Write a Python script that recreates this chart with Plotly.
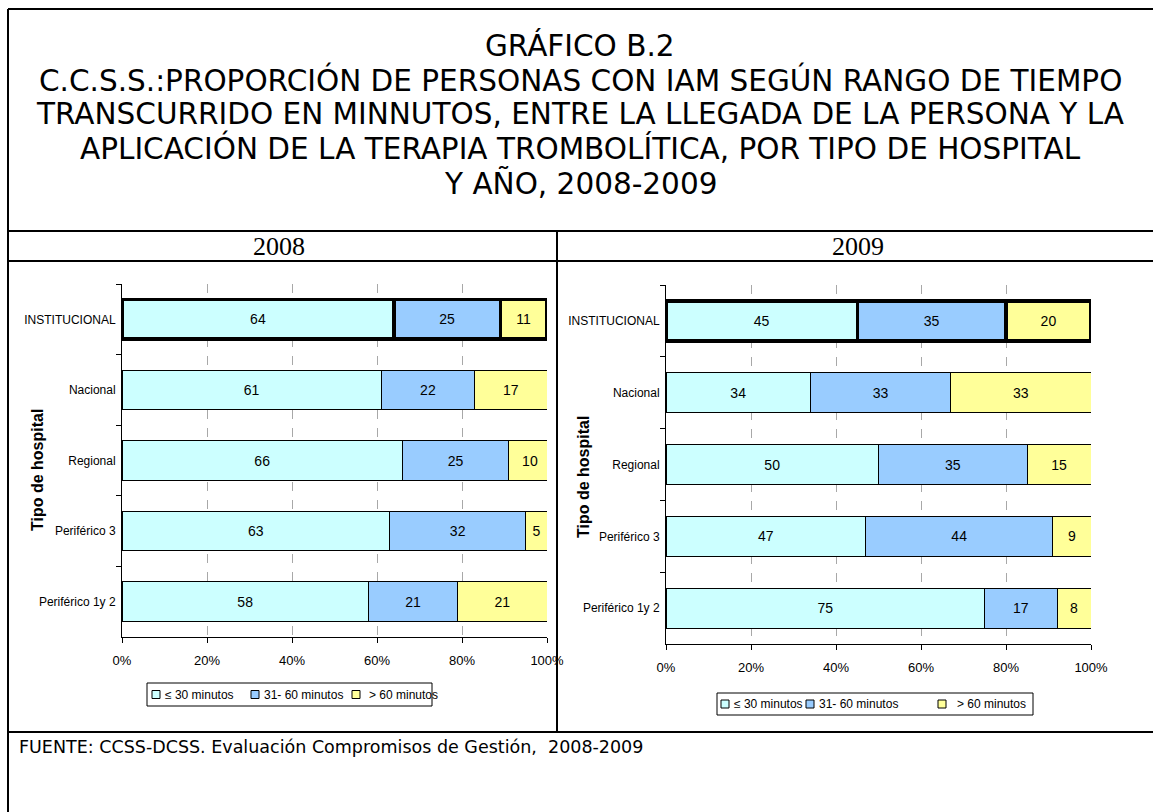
import plotly.graph_objects as go

W, H = 1153, 812

categories = ["INSTITUCIONAL", "Nacional", "Regional", "Periférico 3", "Periférico 1y 2"]
series_names = ["≤ 30 minutos", "31- 60 minutos", "> 60 minutos"]
colors = ["#CCFFFF", "#99CCFF", "#FFFF99"]

vals_2008_le30 = [64, 61, 66, 63, 58]
vals_2008_31_60 = [25, 22, 25, 32, 21]
vals_2008_gt60 = [11, 17, 10, 5, 21]

vals_2009_le30 = [45, 34, 50, 47, 75]
vals_2009_31_60 = [35, 33, 35, 44, 17]
vals_2009_gt60 = [20, 33, 15, 9, 8]

x_ticks = [0, 20, 40, 60, 80, 100]
x_tick_labels = ["0%", "20%", "40%", "60%", "80%", "100%"]

title_lines = [
    "GRÁFICO B.2",
    "C.C.S.S.:PROPORCIÓN DE PERSONAS CON IAM SEGÚN RANGO DE TIEMPO",
    "TRANSCURRIDO EN MINNUTOS, ENTRE LA LLEGADA DE LA PERSONA Y LA",
    "APLICACIÓN DE LA TERAPIA TROMBOLÍTICA, POR TIPO DE HOSPITAL",
    "Y AÑO, 2008-2009",
]
source_text = "FUENTE: CCSS-DCSS. Evaluación Compromisos de Gestión,  2008-2009"


def px(x):
    return x / W


def py(y):
    return 1 - y / H


fig = go.Figure()

line_widths = [3.5, 1, 1, 1, 1]
panels = [
    ("x", "y", [vals_2008_le30, vals_2008_31_60, vals_2008_gt60]),
    ("x2", "y2", [vals_2009_le30, vals_2009_31_60, vals_2009_gt60]),
]
for xa, ya, series in panels:
    for name, col, vals in zip(series_names, colors, series):
        fig.add_trace(go.Bar(
            y=categories, x=vals, name=name, orientation="h",
            xaxis=xa, yaxis=ya, showlegend=False,
            marker=dict(color=col, line=dict(color="black", width=line_widths)),
            text=[str(v) for v in vals], textposition="inside",
            insidetextanchor="middle", textangle=0,
            textfont=dict(family="Liberation Sans", size=14, color="black"),
            width=0.56, hoverinfo="skip",
        ))

xaxis_common = dict(
    range=[0, 100], tickvals=x_ticks, ticktext=x_tick_labels,
    showgrid=True, gridcolor="#A8A8A8", griddash="dash", gridwidth=1,
    showline=True, linecolor="black", linewidth=1,
    ticks="outside", ticklen=5, tickcolor="black",
    tickfont=dict(family="Liberation Sans", size=13, color="black"),
    zeroline=False, fixedrange=True, automargin=False, ticklabelstandoff=6,
)
yaxis_common = dict(
    categoryorder="array", categoryarray=categories, autorange="reversed",
    showline=True, linecolor="black", linewidth=1,
    ticks="outside", ticklen=5, tickcolor="black", tickson="boundaries",
    tickfont=dict(family="Liberation Sans", size=12, color="black"),
    showgrid=False, fixedrange=True, ticklabelstandoff=3, automargin=False,
)

fig.update_layout(
    width=W, height=H, autosize=False,
    margin=dict(l=0, r=0, t=0, b=0, pad=0),
    paper_bgcolor="white", plot_bgcolor="white",
    barmode="stack",
    showlegend=False,
    xaxis=dict(domain=[px(122), px(547)], anchor="y", **xaxis_common),
    yaxis=dict(domain=[py(637), py(284)], anchor="x", **yaxis_common),
    xaxis2=dict(domain=[px(666), px(1091)], anchor="y2", **xaxis_common),
    yaxis2=dict(domain=[py(644), py(285)], anchor="x2", **yaxis_common),
)

# Title lines
title_y = [46, 80, 114, 148, 183]
for t, yy in zip(title_lines, title_y):
    fig.add_annotation(
        text=t, x=px(580), y=py(yy), xref="paper", yref="paper",
        showarrow=False, xanchor="center", yanchor="middle",
        font=dict(family="DejaVu Sans", size=29.5, color="black"),
    )

# Year headers
for t, xx in [("2008", 279), ("2009", 858)]:
    fig.add_annotation(
        text=t, x=px(xx), y=py(246), xref="paper", yref="paper",
        showarrow=False, xanchor="center", yanchor="middle",
        font=dict(family="Liberation Serif", size=26, color="black"),
    )

# Axis titles
for xx, yy in [(37, 470), (583, 477)]:
    fig.add_annotation(
        text="<b>Tipo de hospital</b>", x=px(xx), y=py(yy),
        xref="paper", yref="paper", showarrow=False, textangle=-90,
        xanchor="center", yanchor="middle",
        font=dict(family="Liberation Sans", size=16, color="black"),
    )

# Source
fig.add_annotation(
    text=source_text, x=px(17), y=py(747), xref="paper", yref="paper",
    showarrow=False, xanchor="left", yanchor="middle",
    font=dict(family="DejaVu Sans", size=17.5, color="black"),
)

# Manual legends (box, swatches, labels)
legend_specs = [
    (147, 432, 683, 706, [152, 251, 352], [163, 262, 367]),
    (717, 1033, 693, 715, [721, 806, 938], [732, 817, 955]),
]
for bx0, bx1, by0, by1, sx, tx in legend_specs:
    fig.add_shape(
        type="rect", xref="paper", yref="paper",
        x0=px(bx0), x1=px(bx1), y0=py(by0), y1=py(by1),
        line=dict(color="black", width=1), fillcolor="white",
    )
    cy = (by0 + by1) / 2
    for name, col, s, t in zip(series_names, colors, sx, tx):
        fig.add_shape(
            type="rect", xref="paper", yref="paper",
            x0=px(s), x1=px(s + 8), y0=py(cy - 4), y1=py(cy + 4),
            line=dict(color="black", width=1), fillcolor=col,
        )
        fig.add_annotation(
            text=name, x=px(t), y=py(cy), xref="paper", yref="paper",
            showarrow=False, xanchor="left", yanchor="middle",
            font=dict(family="Liberation Sans", size=12, color="black"),
        )

# Table borders
lines = [
    (8, 9, 1153, 9),
    (8, 9, 8, 812),
    (8, 231, 1153, 231),
    (8, 261, 1153, 261),
    (8, 732, 1153, 732),
    (557, 231, 557, 732),
]
for x0, y0, x1, y1 in lines:
    fig.add_shape(
        type="line", xref="paper", yref="paper",
        x0=px(x0), y0=py(y0), x1=px(x1), y1=py(y1),
        line=dict(color="black", width=2),
    )

post = (
    "document.documentElement.style.margin='0';"
    "document.documentElement.style.overflow='hidden';"
    "document.body.style.margin='0';"
    "document.body.style.padding='0';"
    "document.body.style.overflow='hidden';"
    "var gd=document.getElementById('{plot_id}');"
    "Plotly.relayout(gd,{width:1153,height:812});"
)

fig.write_html("out.html", post_script=post, config={"responsive": False, "displayModeBar": False})
